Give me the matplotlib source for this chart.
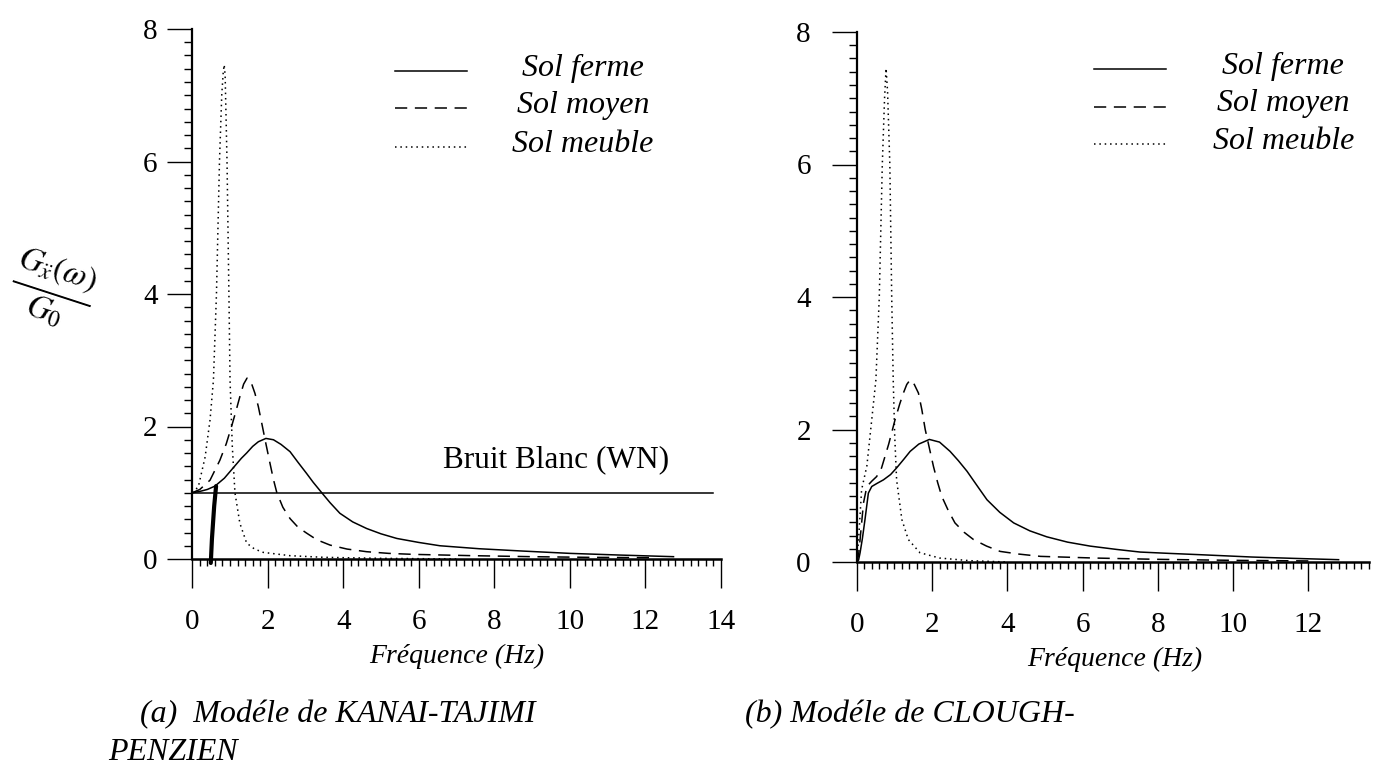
import matplotlib
matplotlib.use('Agg')
import matplotlib.pyplot as plt
from matplotlib.ticker import MultipleLocator

plt.rcParams['font.family'] = ['Liberation Serif', 'DejaVu Serif']
plt.rcParams['mathtext.fontset'] = 'stix'

# (a) Kanai-Tajimi : valeurs
f_ferme_a = [0, 0.2, 0.4, 0.6, 0.85, 1.09, 1.3, 1.44, 1.6, 1.75, 1.95, 2.15, 2.35, 2.59, 2.8, 3.03,
             3.2, 3.43, 3.65, 3.91, 4.25, 4.62, 5.0, 5.42, 6.0, 6.56, 7.6, 8.75, 10.0, 11.3, 12.75]
v_ferme_a = [1.0, 1.02, 1.05, 1.10, 1.22, 1.38, 1.52, 1.6, 1.7, 1.77, 1.82, 1.80, 1.73, 1.62, 1.46, 1.29,
             1.16, 1.0, 0.85, 0.69, 0.56, 0.46, 0.38, 0.31, 0.25, 0.20, 0.155, 0.12, 0.085, 0.06, 0.035]

f_moyen_a = [0, 0.2, 0.47, 0.73, 0.9, 1.04, 1.15, 1.26, 1.36, 1.45, 1.55, 1.66, 1.75, 1.84, 1.95, 2.06,
             2.15, 2.24, 2.4, 2.59, 2.8, 3.03, 3.3, 3.65, 4.1, 4.62, 5.2, 5.85, 7.44, 9.0, 10.5, 12.1]
v_moyen_a = [1.0, 1.05, 1.19, 1.49, 1.74, 2.0, 2.22, 2.45, 2.64, 2.73, 2.68, 2.5, 2.3, 2.05, 1.74, 1.44,
             1.2, 1.0, 0.78, 0.61, 0.48, 0.39, 0.29, 0.21, 0.15, 0.11, 0.085, 0.07, 0.05, 0.035, 0.025, 0.02]

f_meuble_a = [0, 0.16, 0.34, 0.47, 0.56, 0.64, 0.72, 0.78, 0.82, 0.845, 0.87, 0.92, 0.97, 1.0, 1.06,
              1.13, 1.26, 1.44, 1.65, 1.88, 2.59, 3.5, 5.0, 7.0]
v_meuble_a = [1.0, 1.09, 1.54, 2.1, 2.7, 4.0, 6.0, 7.0, 7.35, 7.46, 7.3, 6.0, 4.0, 2.7, 1.7,
              1.0, 0.54, 0.24, 0.15, 0.10, 0.05, 0.025, 0.01, 0.0]

f_bruit = [0, 13.8]
v_bruit = [1.0, 1.0]

# trait a la main sur le scan
f_trait = [0.49, 0.52, 0.58, 0.63]
v_trait = [-0.06, 0.3, 0.8, 1.1]

# (b) Clough-Penzien
f_ferme_b = [0, 0.05, 0.09, 0.15, 0.22, 0.31, 0.4, 0.55, 0.71, 0.9, 1.06, 1.25, 1.42, 1.65, 1.93, 2.2,
             2.48, 2.7, 2.93, 3.2, 3.46, 3.8, 4.17, 4.6, 5.05, 5.6, 6.2, 6.9, 7.53, 8.3, 9.13, 10.5,
             11.6, 12.8]
v_ferme_b = [0, 0.03, 0.14, 0.35, 0.64, 1.04, 1.14, 1.19, 1.24, 1.32, 1.42, 1.55, 1.67, 1.78, 1.85, 1.81,
             1.67, 1.53, 1.37, 1.15, 0.94, 0.75, 0.59, 0.47, 0.38, 0.30, 0.24, 0.19, 0.15, 0.13, 0.11, 0.075,
             0.055, 0.035]

f_moyen_b = [0, 0.05, 0.09, 0.18, 0.27, 0.4, 0.53, 0.66, 0.85, 1.02, 1.14, 1.24, 1.33, 1.42, 1.53, 1.64,
             1.73, 1.82, 1.93, 2.04, 2.15, 2.26, 2.43, 2.61, 2.85, 3.1, 3.45, 3.81, 4.3, 4.88, 6.3, 8.0,
             10.0, 12.2]
v_moyen_b = [0, 0.1, 0.34, 0.89, 1.14, 1.22, 1.29, 1.42, 1.78, 2.15, 2.38, 2.55, 2.68, 2.75, 2.68, 2.55,
             2.3, 2.0, 1.72, 1.44, 1.2, 0.99, 0.78, 0.59, 0.45, 0.34, 0.24, 0.16, 0.12, 0.085, 0.06, 0.04,
             0.025, 0.015]

f_meuble_b = [0, 0.05, 0.13, 0.27, 0.4, 0.51, 0.6, 0.68, 0.74, 0.78, 0.82, 0.88, 0.93, 0.97, 1.01,
              1.06, 1.2, 1.37, 1.68, 2.2, 3.0, 4.0]
v_meuble_b = [0, 0.34, 1.09, 1.45, 2.15, 2.75, 4.0, 6.0, 7.0, 7.45, 7.1, 6.0, 4.0, 2.75, 1.9,
              1.24, 0.64, 0.34, 0.14, 0.06, 0.02, 0.0]

noms_sols = ['Sol ferme', 'Sol moyen', 'Sol meuble']
styles = ['-', (0, (8, 5)), (0, (1, 2.5))]

W, H = 1381, 768
fig = plt.figure(figsize=(W / 100, H / 100), dpi=100)


def px(x, y):
    return x / W, 1 - y / H


def preparer_axe(ax, xmax, pad_y):
    ax.set_xlim(0, xmax)
    ax.set_ylim(0, 8)
    ax.spines['top'].set_visible(False)
    ax.spines['right'].set_visible(False)
    ax.spines['left'].set_linewidth(1.6)
    ax.spines['bottom'].set_linewidth(1.8)
    ax.xaxis.set_major_locator(MultipleLocator(2))
    ax.xaxis.set_minor_locator(MultipleLocator(0.2))
    ax.yaxis.set_major_locator(MultipleLocator(2))
    ax.yaxis.set_minor_locator(MultipleLocator(0.2))
    ax.tick_params(axis='x', which='major', direction='out', length=21, width=1.0, pad=15, labelsize=21)
    ax.tick_params(axis='x', which='minor', direction='out', length=5, width=1.0)
    ax.tick_params(axis='y', which='major', direction='out', length=18, width=1.0, pad=pad_y, labelsize=21)
    ax.tick_params(axis='y', which='minor', direction='out', length=6, width=1.0)
    ax.patch.set_alpha(0)


def legende(ax, x0, x1, xt, yl, yb):
    for nom, st, yy, ybb in zip(noms_sols, styles, yl, yb):
        ax.plot([x0, x1], [yy, yy], color='black', lw=1.1, linestyle=st, transform=ax.transAxes,
                clip_on=False)
        ax.text(xt, ybb, nom, transform=ax.transAxes, ha='center', va='baseline',
                fontsize=23, style='italic')


# ---- panneau (a)
ax1 = fig.add_axes([192.3 / W, 1 - 559 / H, 528.4 / W, 530 / H])
preparer_axe(ax1, 14, 7)
ax1.plot(f_ferme_a, v_ferme_a, color='black', lw=1.1, linestyle=styles[0])
ax1.plot(f_moyen_a, v_moyen_a, color='black', lw=1.1, linestyle=styles[1])
ax1.plot(f_meuble_a, v_meuble_a, color='black', lw=1.1, linestyle=styles[2])
ax1.plot(f_bruit, v_bruit, color='black', lw=1.1)
ax1.plot(f_trait, v_trait, color='black', lw=3, clip_on=False, solid_capstyle='round')
ax1.text(6.65, 1.39, 'Bruit Blanc (WN)', fontsize=22.5, va='baseline', ha='left')
legende(ax1, 0.383, 0.520, 0.739, [0.921, 0.851, 0.778], [0.911, 0.841, 0.768])

# ---- panneau (b)
ax2 = fig.add_axes([856.7 / W, 1 - 562 / H, 512 / W, 530 / H])
preparer_axe(ax2, 13.6, 15)
ax2.plot(f_ferme_b, v_ferme_b, color='black', lw=1.1, linestyle=styles[0])
ax2.plot(f_moyen_b, v_moyen_b, color='black', lw=1.1, linestyle=styles[1])
ax2.plot(f_meuble_b, v_meuble_b, color='black', lw=1.1, linestyle=styles[2])
legende(ax2, 0.463, 0.605, 0.833, [0.930, 0.859, 0.789], [0.921, 0.850, 0.779])

# titres d'axes et legendes de figure
fig.text(*px(457, 663), 'Fréquence (Hz)', fontsize=20, style='italic', ha='center', va='baseline')
fig.text(*px(1115, 666), 'Fréquence (Hz)', fontsize=20, style='italic', ha='center', va='baseline')
fig.text(*px(140, 722), '(a)  Modéle de KANAI-TAJIMI', fontsize=23, style='italic', ha='left',
         va='baseline')
fig.text(*px(108, 760), 'PENZIEN', fontsize=23, style='italic', ha='left', va='baseline')
fig.text(*px(745, 722), '(b) Modéle de CLOUGH-', fontsize=23, style='italic', ha='left',
         va='baseline')

# annotation manuscrite de l'axe y
fig.text(*px(52, 290), r'$\frac{G_{\ddot{x}}(\omega)}{G_0}$', fontsize=34, rotation=-18,
         ha='center', va='center')

fig.savefig('out.png', dpi=100)
